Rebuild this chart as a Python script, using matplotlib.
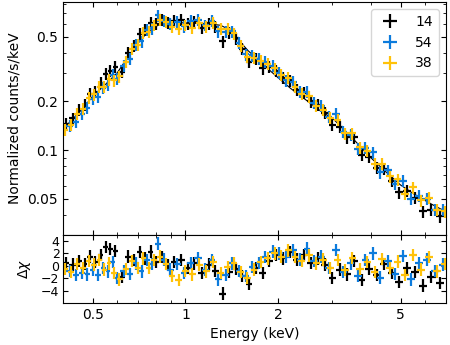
import numpy as np
import matplotlib
matplotlib.use("Agg")
import matplotlib.pyplot as plt
from matplotlib.ticker import FixedLocator, NullFormatter

# ---------------- data ----------------
labels = ["14", "54", "38"]
colors = ["black", "#0C7BDC", "#FFC20A"]

e_14 = [0.41, 0.43, 0.45, 0.47, 0.49, 0.51, 0.53, 0.55, 0.57, 0.59, 0.62, 0.65, 0.68, 0.71, 0.74,
        0.77, 0.80, 0.84, 0.88, 0.92, 0.97, 1.02, 1.07, 1.13, 1.19, 1.25, 1.32, 1.39, 1.46, 1.53,
        1.61, 1.69, 1.78, 1.87, 1.97, 2.07, 2.18, 2.30, 2.42, 2.55, 2.69, 2.84, 3.00, 3.17, 3.35,
        3.54, 3.74, 3.95, 4.18, 4.42, 4.68, 4.95, 5.25, 5.57, 5.92, 6.30, 6.70]
y_14 = [0.145, 0.157, 0.177, 0.191, 0.222, 0.230, 0.260, 0.295, 0.310, 0.325, 0.305, 0.40, 0.44,
        0.52, 0.55, 0.61, 0.60, 0.64, 0.615, 0.63, 0.635, 0.60, 0.62, 0.57, 0.605, 0.575, 0.47,
        0.53, 0.49, 0.42, 0.35, 0.365, 0.32, 0.325, 0.31, 0.28, 0.27, 0.235, 0.225, 0.20, 0.19,
        0.17, 0.143, 0.139, 0.12, 0.12, 0.094, 0.091, 0.078, 0.077, 0.065, 0.055, 0.056, 0.051,
        0.042, 0.043, 0.039]
r_14 = [0.5, 0.2, 0.8, 0.3, 1.5, 0.6, 1.8, 3.0, 2.7, 2.4, -1.8, 1.5, 0.9, 2.2, 1.2, 2.3, 0.6, 1.4,
        0.1, 0.6, 0.9, -0.3, 0.4, -1.2, 0.2, -0.8, -4.5, -1.0, -0.5, -1.6, -2.9, -0.4, -1.2, 0.8,
        1.8, 1.2, 2.2, 1.0, 1.8, 0.5, 1.2, 0.2, -2.0, -0.6, -1.4, 0.8, -2.3, -0.5, -1.5, 0.3, -1.2,
        -2.6, -0.4, -1.0, -3.2, -1.8, -2.8]

e_54 = [0.42, 0.44, 0.46, 0.48, 0.50, 0.52, 0.54, 0.56, 0.58, 0.60, 0.63, 0.66, 0.69, 0.72, 0.75,
        0.78, 0.815, 0.85, 0.89, 0.94, 0.99, 1.04, 1.10, 1.16, 1.22, 1.28, 1.35, 1.42, 1.49, 1.57,
        1.65, 1.73, 1.82, 1.92, 2.02, 2.12, 2.24, 2.36, 2.48, 2.62, 2.76, 2.92, 3.08, 3.26, 3.44,
        3.64, 3.84, 4.06, 4.30, 4.55, 4.81, 5.10, 5.40, 5.74, 6.10, 6.48, 6.85]
y_54 = [0.142, 0.150, 0.168, 0.183, 0.208, 0.214, 0.243, 0.252, 0.29, 0.275, 0.33, 0.365, 0.445,
        0.47, 0.55, 0.565, 0.68, 0.63, 0.60, 0.62, 0.58, 0.625, 0.64, 0.59, 0.625, 0.54, 0.535,
        0.54, 0.46, 0.39, 0.385, 0.365, 0.35, 0.33, 0.30, 0.27, 0.265, 0.23, 0.23, 0.195, 0.187,
        0.16, 0.167, 0.13, 0.124, 0.102, 0.103, 0.097, 0.073, 0.075, 0.062, 0.065, 0.050, 0.052,
        0.050, 0.043, 0.043]
r_54 = [-0.8, -1.5, -1.2, -1.4, -0.6, -1.5, -0.3, -0.9, 0.6, -2.0, -0.8, -1.3, 0.4, -0.9, 0.9, 0.3,
        3.6, 1.0, -0.6, 0.3, -1.2, 0.5, 1.2, -0.6, 0.9, -2.2, -1.5, 0.4, -0.8, -1.6, -0.2, 0.5, 1.4,
        2.3, 2.0, 1.4, 2.5, 1.0, 2.8, 0.8, 1.5, -0.4, 2.6, -1.0, 0.4, -1.6, 0.9, 2.0, -1.9, 0.8,
        -1.3, 1.6, -2.2, 0.4, 1.0, -0.8, 0.2]

e_38 = [0.405, 0.425, 0.445, 0.465, 0.485, 0.505, 0.525, 0.545, 0.565, 0.585, 0.61, 0.64, 0.67,
        0.70, 0.73, 0.76, 0.79, 0.825, 0.865, 0.905, 0.95, 1.0, 1.05, 1.11, 1.17, 1.23, 1.30, 1.37,
        1.44, 1.51, 1.59, 1.67, 1.76, 1.85, 1.95, 2.05, 2.16, 2.27, 2.39, 2.52, 2.66, 2.80, 2.96,
        3.12, 3.30, 3.49, 3.69, 3.90, 4.12, 4.36, 4.62, 4.89, 5.18, 5.50, 5.84, 6.20, 6.58, 6.95]
y_38 = [0.134, 0.143, 0.168, 0.180, 0.21, 0.221, 0.245, 0.245, 0.273, 0.27, 0.285, 0.35, 0.42,
        0.445, 0.53, 0.535, 0.59, 0.64, 0.62, 0.575, 0.56, 0.59, 0.57, 0.61, 0.58, 0.61, 0.56,
        0.56, 0.525, 0.44, 0.375, 0.37, 0.355, 0.34, 0.32, 0.29, 0.28, 0.247, 0.223, 0.215, 0.187,
        0.178, 0.158, 0.154, 0.127, 0.127, 0.104, 0.099, 0.082, 0.082, 0.069, 0.066, 0.054, 0.059,
        0.049, 0.051, 0.043, 0.042]
r_38 = [-0.5, -1.0, 0.3, -0.4, 0.8, 0.2, 0.9, -0.6, 0.4, -1.2, -2.2, -0.5, 0.8, -0.4, 1.2, -0.3,
        0.9, 1.5, 0.3, -1.6, -2.3, -0.8, -1.4, 0.2, -0.9, 0.6, -1.2, -0.2, 0.4, -1.0, -2.0, -0.6,
        0.6, 1.2, 2.0, 1.5, 2.5, 1.4, 0.8, 1.7, 0.4, 1.0, -0.3, 0.9, -0.7, 1.3, -0.5, 0.6, -1.0,
        1.1, -0.4, 0.7, -1.5, 1.8, -0.6, 1.4, -0.9, 0.3]

model_e = [0.40, 0.45, 0.50, 0.55, 0.60, 0.65, 0.70, 0.75, 0.80, 0.85, 0.90, 1.0, 1.1, 1.2, 1.3,
           1.4, 1.5, 1.6, 1.7, 1.8, 1.9, 2.0, 2.2, 2.5, 2.8, 3.0, 3.5, 4.0, 4.5, 5.0, 5.5, 6.0,
           6.5, 7.0]
model_y = [0.135, 0.17, 0.215, 0.255, 0.30, 0.375, 0.455, 0.53, 0.58, 0.61, 0.615, 0.61, 0.605,
           0.60, 0.59, 0.55, 0.47, 0.41, 0.37, 0.335, 0.305, 0.28, 0.24, 0.20, 0.17, 0.158, 0.118,
           0.09, 0.073, 0.061, 0.054, 0.049, 0.045, 0.042]

xticks = [0.5, 1, 2, 5]
xtick_labels = ["0.5", "1", "2", "5"]
xminor = [0.4, 0.6, 0.7, 0.8, 0.9, 3, 4, 6, 7]
yticks = [0.05, 0.1, 0.2, 0.5]
ytick_labels = ["0.05", "0.1", "0.2", "0.5"]
yminor = [0.03, 0.04, 0.06, 0.07, 0.08, 0.09, 0.3, 0.4, 0.6, 0.7, 0.8]
rticks = [-4, -2, 0, 2, 4]

series = [(e_14, y_14, r_14), (e_54, y_54, r_54), (e_38, y_38, r_38)]

# ---------------- figure ----------------
fig = plt.figure(figsize=(4.5, 3.45), dpi=100)
gs = fig.add_gridspec(2, 1, height_ratios=[233, 68], hspace=0,
                      left=0.14, right=0.99, top=0.994, bottom=0.122)
ax = fig.add_subplot(gs[0])
axr = fig.add_subplot(gs[1], sharex=ax)


def half_widths(e):
    e = np.asarray(e, float)
    le = np.log10(e)
    edges = np.empty(len(e) + 1)
    edges[1:-1] = 0.5 * (le[1:] + le[:-1])
    edges[0] = le[0] - (edges[1] - le[0])
    edges[-1] = le[-1] + (le[-1] - edges[-2])
    lo = e - 10 ** edges[:-1]
    hi = 10 ** edges[1:] - e
    return np.vstack([lo, hi])


ax.plot(model_e, model_y, color="black", lw=0.8, zorder=1.9)

for (e, y, r), c, lab in zip(series, colors, labels):
    e = np.asarray(e)
    y = np.asarray(y)
    xe = half_widths(e)
    ax.errorbar(e, y, xerr=xe, yerr=0.085 * y, fmt="none", ecolor=c,
                elinewidth=1.6, capsize=0, label=lab)
    axr.errorbar(e, r, xerr=xe, yerr=1.0, fmt="none", ecolor=c,
                 elinewidth=1.6, capsize=0)

ax.set_xscale("log")
ax.set_yscale("log")
ax.set_xlim(0.4, 7.0)
ax.set_ylim(0.03, 0.82)

for a in (ax, axr):
    a.xaxis.set_major_locator(FixedLocator(xticks))
    a.xaxis.set_minor_locator(FixedLocator(xminor))
    a.xaxis.set_minor_formatter(NullFormatter())
    a.tick_params(which="both", direction="in", top=True, right=True, labelsize=10)

axr.set_xticklabels(xtick_labels)
ax.tick_params(axis="x", which="both", labelbottom=False)

ax.yaxis.set_major_locator(FixedLocator(yticks))
ax.set_yticklabels(ytick_labels)
ax.yaxis.set_minor_locator(FixedLocator(yminor))
ax.yaxis.set_minor_formatter(NullFormatter())

axr.set_ylim(-6, 5)
axr.set_yticks(rticks)
axr.tick_params(axis="y", labelsize=9, pad=2.5)

ax.set_ylabel("Normalized counts/s/keV", fontsize=10)
axr.set_ylabel(r"$\Delta\chi$", fontsize=10, labelpad=6)
axr.set_xlabel("Energy (keV)", fontsize=10)

ax.legend(loc="upper right", fontsize=10)

fig.savefig("out.png", dpi=100)
